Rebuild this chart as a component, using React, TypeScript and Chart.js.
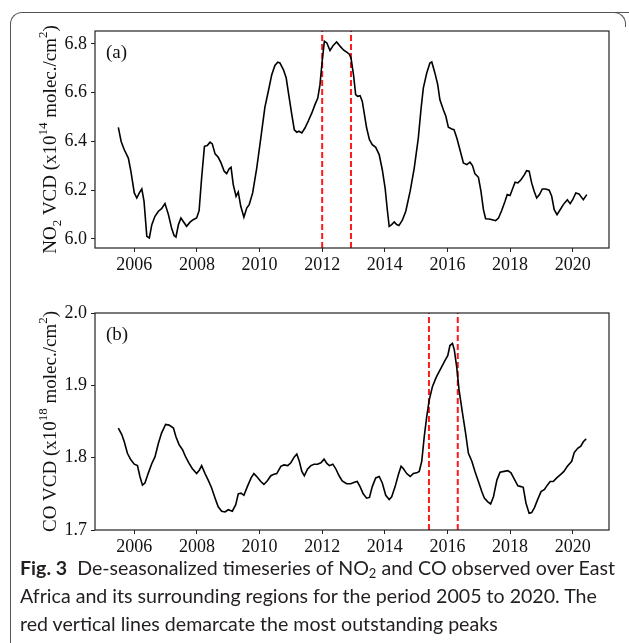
import React, { useEffect, useRef } from 'react';
import { Chart, registerables } from 'chart.js';

Chart.register(...registerables);

// ---------- data ----------
const yearTicks = [2006, 2008, 2010, 2012, 2014, 2016, 2018, 2020];
const xMin = 2004.745;
const xMax = 2021.16;

const no2Ticks = [6.0, 6.2, 6.4, 6.6, 6.8];
const no2Min = 5.963;
const no2Max = 6.853;
const no2Peaks = [2012.0, 2012.92];

const coTicks = [1.7, 1.8, 1.9, 2.0];
const coMin = 1.7;
const coMax = 2.0;
const coPeaks = [2015.41, 2016.33];

const no2Years = [
  2005.49, 2005.58, 2005.68, 2005.81, 2005.89, 2006.0, 2006.08, 2006.16, 2006.24, 2006.31,
  2006.4, 2006.48, 2006.56, 2006.66, 2006.77, 2006.87, 2006.98, 2007.09, 2007.19, 2007.27,
  2007.33, 2007.41, 2007.49, 2007.56, 2007.67, 2007.78, 2007.88, 2007.99, 2008.07, 2008.15,
  2008.24, 2008.33, 2008.42, 2008.49, 2008.58, 2008.68, 2008.77, 2008.87, 2008.95, 2009.03,
  2009.09, 2009.16, 2009.25, 2009.32, 2009.4, 2009.5, 2009.59, 2009.67, 2009.78, 2009.91,
  2010.04, 2010.17, 2010.28, 2010.39, 2010.49, 2010.58, 2010.65, 2010.76, 2010.85, 2010.94,
  2011.03, 2011.11, 2011.19, 2011.26, 2011.35, 2011.45, 2011.56, 2011.67, 2011.77, 2011.86,
  2011.93, 2012.0, 2012.07, 2012.15, 2012.25, 2012.36, 2012.46, 2012.57, 2012.68, 2012.78,
  2012.86, 2012.92, 2013.0, 2013.07, 2013.13, 2013.21, 2013.28, 2013.35, 2013.42, 2013.51,
  2013.6, 2013.71, 2013.82, 2013.92, 2014.01, 2014.08, 2014.14, 2014.22, 2014.3, 2014.38,
  2014.45, 2014.56, 2014.67, 2014.81, 2014.94, 2015.07, 2015.16, 2015.23, 2015.34, 2015.44,
  2015.5, 2015.6, 2015.69, 2015.76, 2015.87, 2015.95, 2016.03, 2016.14, 2016.21, 2016.3,
  2016.4, 2016.51, 2016.62, 2016.72, 2016.8, 2016.88, 2016.99, 2017.07, 2017.15, 2017.22,
  2017.33, 2017.43, 2017.54, 2017.63, 2017.73, 2017.84, 2017.91, 2018.0, 2018.09, 2018.16,
  2018.25, 2018.35, 2018.46, 2018.53, 2018.61, 2018.69, 2018.77, 2018.85, 2018.94, 2019.03,
  2019.14, 2019.25, 2019.33, 2019.41, 2019.5, 2019.6, 2019.7, 2019.83, 2019.92, 2020.0,
  2020.1, 2020.2, 2020.34, 2020.45,
];
const no2Values = [
  6.458, 6.4, 6.366, 6.332, 6.278, 6.189, 6.168, 6.189, 6.205, 6.155,
  6.011, 6.004, 6.059, 6.093, 6.114, 6.124, 6.145, 6.1, 6.045, 6.014,
  6.008, 6.059, 6.086, 6.073, 6.052, 6.069, 6.079, 6.086, 6.116, 6.25,
  6.38, 6.383, 6.397, 6.39, 6.349, 6.335, 6.312, 6.278, 6.268, 6.288,
  6.294, 6.223, 6.175, 6.193, 6.134, 6.089, 6.127, 6.141, 6.189, 6.291,
  6.414, 6.54, 6.606, 6.674, 6.712, 6.725, 6.722, 6.695, 6.661, 6.585,
  6.51, 6.448, 6.438, 6.442, 6.435, 6.455, 6.485, 6.517, 6.551, 6.578,
  6.633, 6.729, 6.811, 6.804, 6.773, 6.795, 6.808, 6.791, 6.775, 6.766,
  6.759, 6.743, 6.674, 6.592, 6.585, 6.588, 6.565, 6.51, 6.455, 6.407,
  6.387, 6.376, 6.346, 6.284, 6.209, 6.12, 6.052, 6.059, 6.07, 6.059,
  6.055, 6.077, 6.114, 6.196, 6.291, 6.414, 6.537, 6.619, 6.681, 6.722,
  6.726, 6.681, 6.633, 6.571, 6.53, 6.503, 6.458, 6.451, 6.448, 6.414,
  6.366, 6.312, 6.305, 6.315, 6.301, 6.267, 6.253, 6.196, 6.12, 6.083,
  6.082, 6.079, 6.075, 6.086, 6.116, 6.155, 6.182, 6.178, 6.209, 6.233,
  6.23, 6.243, 6.264, 6.28, 6.278, 6.23, 6.196, 6.168, 6.182, 6.205,
  6.205, 6.2, 6.175, 6.12, 6.1, 6.12, 6.141, 6.161, 6.145, 6.161,
  6.189, 6.185, 6.161, 6.182,
];

const coYears = [
  2005.49, 2005.6, 2005.68, 2005.78, 2005.89, 2006.0, 2006.1, 2006.18, 2006.26, 2006.34,
  2006.45, 2006.56, 2006.66, 2006.77, 2006.87, 2007.0, 2007.11, 2007.25, 2007.33, 2007.43,
  2007.54, 2007.64, 2007.75, 2007.85, 2007.99, 2008.08, 2008.15, 2008.26, 2008.36, 2008.47,
  2008.58, 2008.68, 2008.79, 2008.9, 2009.0, 2009.13, 2009.24, 2009.32, 2009.41, 2009.5,
  2009.61, 2009.73, 2009.82, 2009.93, 2010.04, 2010.14, 2010.25, 2010.36, 2010.46, 2010.55,
  2010.68, 2010.78, 2010.9, 2011.0, 2011.11, 2011.19, 2011.27, 2011.35, 2011.43, 2011.53,
  2011.64, 2011.74, 2011.85, 2011.96, 2012.06, 2012.15, 2012.23, 2012.34, 2012.43, 2012.54,
  2012.64, 2012.78, 2012.91, 2013.03, 2013.12, 2013.21, 2013.31, 2013.42, 2013.51, 2013.6,
  2013.71, 2013.82, 2013.92, 2014.03, 2014.14, 2014.22, 2014.33, 2014.43, 2014.52, 2014.59,
  2014.7, 2014.81, 2014.91, 2015.02, 2015.1, 2015.18, 2015.26, 2015.34, 2015.42, 2015.52,
  2015.63, 2015.71, 2015.82, 2015.92, 2016.01, 2016.08, 2016.16, 2016.22, 2016.3, 2016.37,
  2016.48, 2016.58, 2016.67, 2016.78, 2016.88, 2016.99, 2017.1, 2017.18, 2017.29, 2017.38,
  2017.47, 2017.58, 2017.68, 2017.81, 2017.93, 2018.03, 2018.14, 2018.25, 2018.35, 2018.42,
  2018.51, 2018.61, 2018.69, 2018.78, 2018.88, 2018.99, 2019.1, 2019.19, 2019.28, 2019.38,
  2019.49, 2019.62, 2019.72, 2019.83, 2019.97, 2020.05, 2020.16, 2020.26, 2020.34, 2020.43,
];
const coValues = [
  1.841, 1.832, 1.822, 1.806, 1.797, 1.791, 1.789, 1.774, 1.762, 1.765,
  1.779, 1.792, 1.801, 1.82, 1.834, 1.846, 1.845, 1.841, 1.829, 1.818,
  1.811, 1.801, 1.792, 1.785, 1.778, 1.783, 1.789, 1.778, 1.769, 1.758,
  1.744, 1.732, 1.726, 1.725, 1.728, 1.726, 1.735, 1.75, 1.751, 1.748,
  1.76, 1.772, 1.778, 1.773, 1.767, 1.763, 1.768, 1.775, 1.777, 1.778,
  1.788, 1.79, 1.789, 1.793, 1.801, 1.805, 1.795, 1.781, 1.775, 1.784,
  1.789, 1.791, 1.791, 1.793, 1.798, 1.792, 1.789, 1.791, 1.785, 1.775,
  1.768, 1.764, 1.764, 1.766, 1.767, 1.76, 1.75, 1.744, 1.745, 1.76,
  1.772, 1.774, 1.765, 1.748, 1.742, 1.746, 1.76, 1.776, 1.788, 1.785,
  1.778, 1.774, 1.778, 1.779, 1.781, 1.795, 1.829, 1.857, 1.88, 1.898,
  1.91, 1.917, 1.926, 1.934, 1.941, 1.955, 1.958, 1.949, 1.924, 1.894,
  1.862, 1.834, 1.806, 1.795, 1.781, 1.767, 1.753, 1.744, 1.739, 1.736,
  1.746, 1.769, 1.78, 1.781, 1.782, 1.779, 1.77, 1.761, 1.76, 1.759,
  1.737, 1.723, 1.724, 1.731, 1.742, 1.753, 1.756, 1.762, 1.767, 1.767,
  1.772, 1.777, 1.781, 1.788, 1.795, 1.807, 1.813, 1.816, 1.822, 1.826,
];

type Part = { t: string; m?: 'sub' | 'sup' };
const no2Label: Part[] = [
  { t: 'NO' }, { t: '2', m: 'sub' }, { t: ' VCD (x10' }, { t: '14', m: 'sup' },
  { t: ' molec./cm' }, { t: '2', m: 'sup' }, { t: ')' },
];
const coLabel: Part[] = [
  { t: 'CO VCD (x10' }, { t: '18', m: 'sup' }, { t: ' molec./cm' }, { t: '2', m: 'sup' }, { t: ')' },
];

const SERIF = '"Liberation Serif", "Times New Roman", serif';

type PanelProps = {
  years: number[];
  values: number[];
  peaks: number[];
  yTicks: number[];
  yMin: number;
  yMax: number;
  label: Part[];
  tag: string;
  top: number;
  height: number;
  padTop: number;
  xAxisHeight: number;
};

function Panel(p: PanelProps) {
  const ref = useRef<HTMLCanvasElement>(null);
  useEffect(() => {
    if (!ref.current) return;
    const decor = {
      id: 'decor',
      afterDraw(chart: any) {
        const { ctx, chartArea: a } = chart;
        ctx.save();
        ctx.strokeStyle = '#222';
        ctx.lineWidth = 1.2;
        ctx.strokeRect(a.left, a.top, a.right - a.left, a.bottom - a.top);
        ctx.fillStyle = '#111';
        ctx.font = `19px ${SERIF}`;
        ctx.textBaseline = 'alphabetic';
        ctx.textAlign = 'left';
        ctx.fillText(p.tag, a.left + 11, a.top + 27);
        // rotated y label with sub/superscripts
        const F = 19;
        const fontFor = (m?: string) => `${m ? Math.round(F * 0.7) : F}px ${SERIF}`;
        let total = 0;
        const widths = p.label.map((part) => {
          ctx.font = fontFor(part.m);
          const w = ctx.measureText(part.t).width;
          total += w;
          return w;
        });
        ctx.translate(56, (a.top + a.bottom) / 2);
        ctx.rotate(-Math.PI / 2);
        let x = -total / 2;
        p.label.forEach((part, i) => {
          ctx.font = fontFor(part.m);
          const dy = part.m === 'sub' ? F * 0.25 : part.m === 'sup' ? -F * 0.5 : 0;
          ctx.fillText(part.t, x, dy);
          x += widths[i];
        });
        ctx.restore();
      },
    };
    const datasets: any[] = [
      {
        data: p.years.map((x, i) => ({ x, y: p.values[i] })),
        borderColor: '#000',
        borderWidth: 1.6,
        pointRadius: 0,
        tension: 0,
        fill: false,
      },
      ...p.peaks.map((px) => ({
        data: [{ x: px, y: p.yMin }, { x: px, y: p.yMax }],
        borderColor: '#ff1a1a',
        borderWidth: 2,
        borderDash: [6, 3],
        pointRadius: 0,
        fill: false,
      })),
    ];
    const tickFont = { family: SERIF, size: 18 };
    const chart = new Chart(ref.current, {
      type: 'line',
      data: { datasets },
      plugins: [decor],
      options: {
        responsive: false,
        maintainAspectRatio: false,
        animation: false,
        layout: { padding: { top: p.padTop, right: 20, left: 0, bottom: 0 } },
        plugins: { legend: { display: false }, tooltip: { enabled: false } },
        scales: {
          x: {
            type: 'linear',
            min: xMin,
            max: xMax,
            afterBuildTicks: (s: any) => {
              s.ticks = yearTicks.map((v) => ({ value: v }));
            },
            afterFit: (s: any) => {
              s.height = p.xAxisHeight;
            },
            ticks: {
              font: tickFont,
              color: '#111',
              padding: 2,
              maxRotation: 0,
              autoSkip: false,
              callback: (v: any) => String(v),
            },
            grid: { display: true, drawOnChartArea: false, drawTicks: true, tickLength: 4, tickColor: '#222', lineWidth: 1 },
            border: { display: false },
          },
          y: {
            type: 'linear',
            min: p.yMin,
            max: p.yMax,
            afterBuildTicks: (s: any) => {
              s.ticks = p.yTicks.map((v) => ({ value: v }));
            },
            afterFit: (s: any) => {
              s.width = 95;
            },
            ticks: {
              font: tickFont,
              color: '#111',
              padding: 4,
              autoSkip: false,
              callback: (v: any) => Number(v).toFixed(1),
            },
            grid: { display: true, drawOnChartArea: false, drawTicks: true, tickLength: 4, tickColor: '#222', lineWidth: 1 },
            border: { display: false },
          },
        },
      },
    });
    return () => chart.destroy();
  }, []);
  return (
    <canvas
      ref={ref}
      width={629}
      height={p.height}
      style={{ position: 'absolute', left: 0, top: p.top, width: 629, height: p.height }}
    />
  );
}

export default function App() {
  return (
    <div style={{ position: 'absolute', left: 0, top: 0, width: 629, height: 643, overflow: 'hidden', background: '#fff' }}>
      <div
        style={{
          position: 'absolute', left: 10, top: 12, width: 620, height: 640,
          borderTop: '1px solid #555', borderLeft: '1px solid #555', borderTopLeftRadius: 12,
        }}
      />
      <div
        style={{
          position: 'absolute', left: 612, top: 12, width: 13, height: 14,
          borderTop: '1px solid #555', borderRight: '1px solid #555', borderTopRightRadius: 12,
        }}
      />
      <Panel
        years={no2Years} values={no2Values} peaks={no2Peaks} yTicks={no2Ticks}
        yMin={no2Min} yMax={no2Max} label={no2Label} tag="(a)"
        top={0} height={290} padTop={31} xAxisHeight={42}
      />
      <Panel
        years={coYears} values={coValues} peaks={coPeaks} yTicks={coTicks}
        yMin={coMin} yMax={coMax} label={coLabel} tag="(b)"
        top={290} height={270} padTop={23} xAxisHeight={30}
      />
      <div
        style={{
          position: 'absolute', left: 20, top: 554, width: 605,
          fontFamily: 'Lato, "Noto Sans", sans-serif', fontSize: 19.6, lineHeight: '28px',
          color: '#231f20', whiteSpace: 'nowrap',
        }}
      >
        <b>Fig. 3</b>&nbsp; De-seasonalized timeseries of NO<sub style={{ fontSize: 13, verticalAlign: '-3px', lineHeight: 0 }}>2</sub> and CO observed over East
        <br />
        Africa and its surrounding regions for the period 2005 to 2020. The
        <br />
        red vertical lines demarcate the most outstanding peaks
      </div>
    </div>
  );
}
